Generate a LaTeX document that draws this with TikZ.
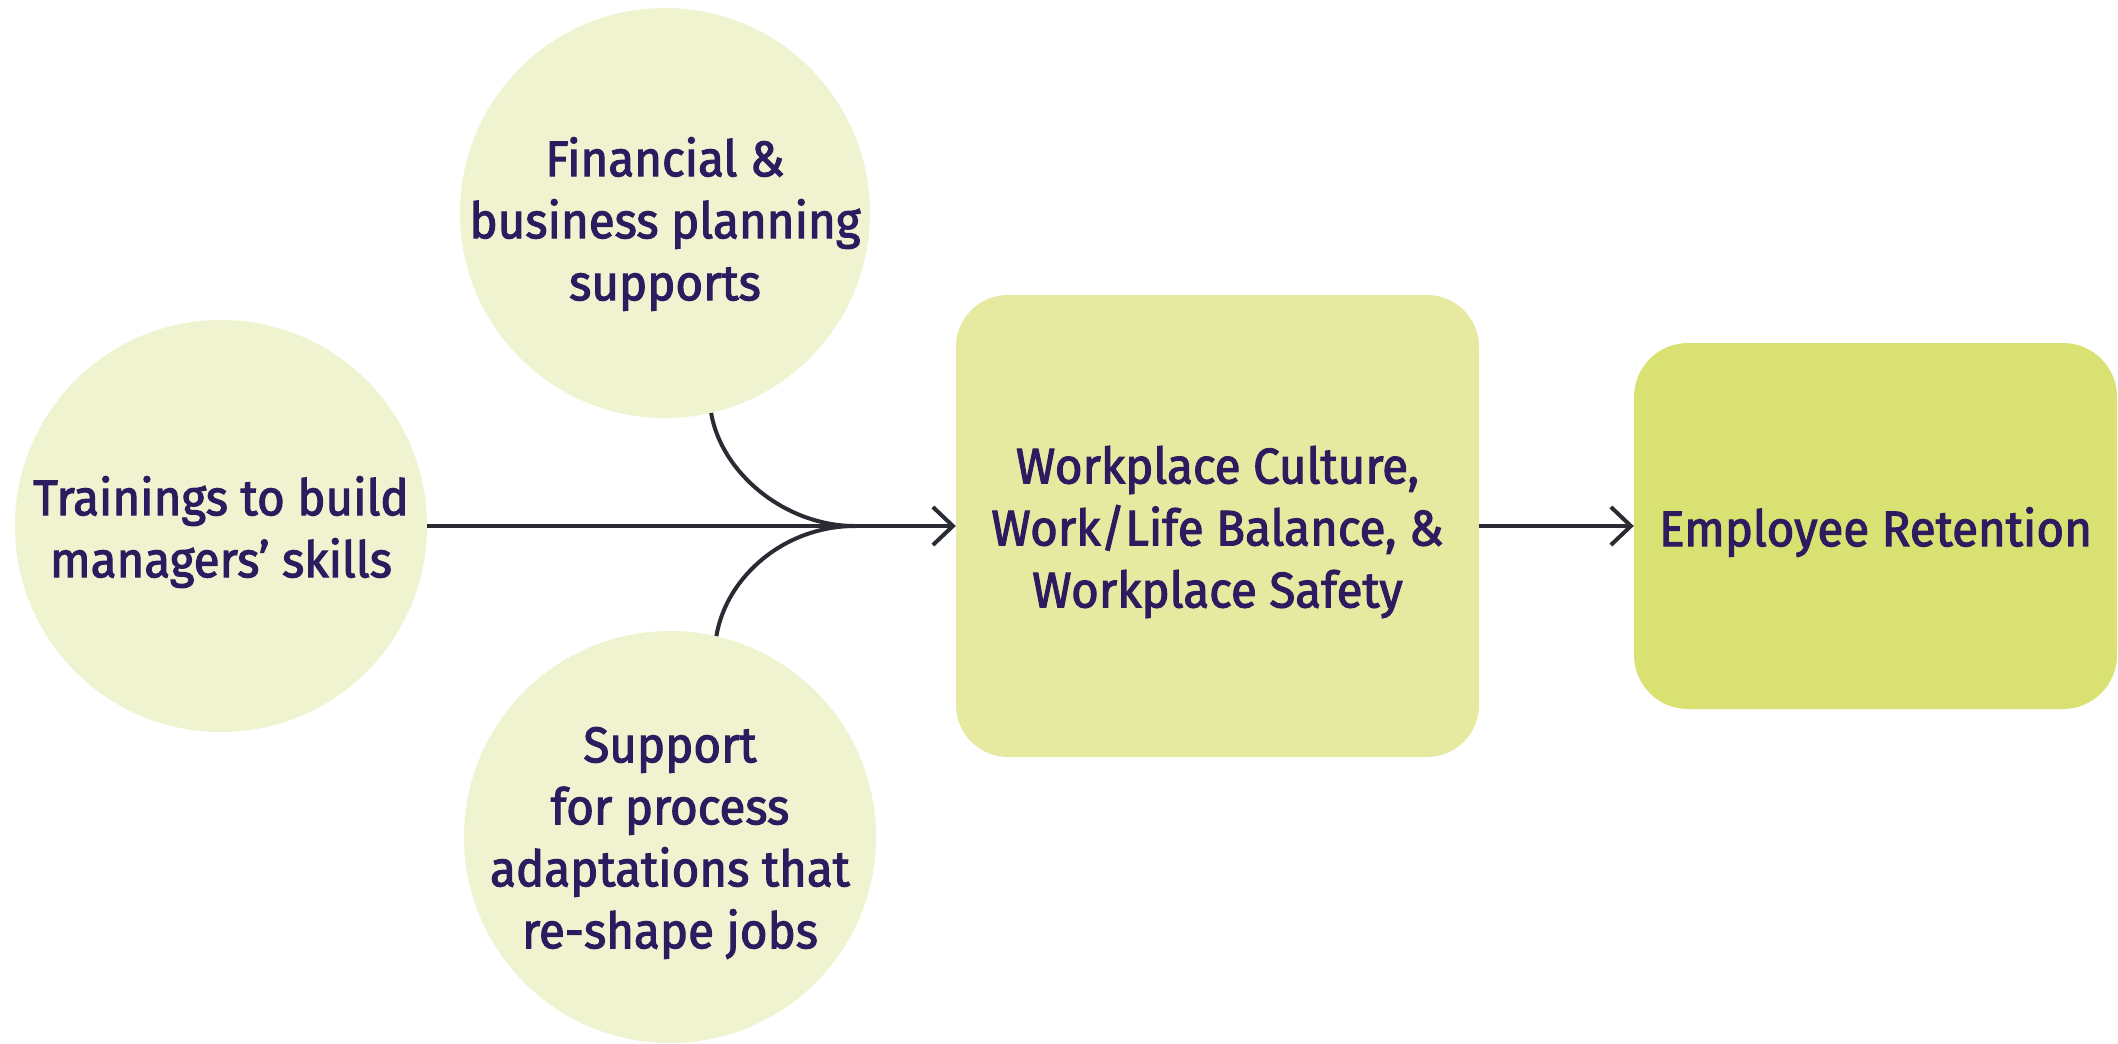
\documentclass[tikz,border=0pt]{standalone}
\usepackage{fontspec}
\setmainfont{Fira Sans}[FakeStretch=0.95, FakeBold=2.2]
\usetikzlibrary{arrows.meta}

\definecolor{bubblefill}{HTML}{F0F3CF}
\definecolor{midfill}{HTML}{E5EAA0}
\definecolor{endfill}{HTML}{D9E172}
\definecolor{ink}{HTML}{2C1C5F}
\definecolor{wire}{HTML}{2B2B33}

\begin{document}
\begin{tikzpicture}[x=1pt, y=-1pt,
  bubble/.style={circle, fill=bubblefill, inner sep=0pt, minimum size=412pt},
  labeltext/.style={text=ink, align=center, font=\fontsize{50}{62}\selectfont, yshift=-6pt},
  midbox/.style={rectangle, rounded corners=52pt, fill=midfill, inner sep=0pt,
    minimum width=523pt, minimum height=462pt},
  endbox/.style={rectangle, rounded corners=54pt, fill=endfill, inner sep=0pt,
    minimum width=483pt, minimum height=366pt},
  flow/.style={draw=wire, line width=4pt},
  tip/.style={-{Straight Barb[length=20pt, width=38pt]}}
]
% canvas
\fill[white] (0,0) rectangle (2118,1044);
\path[use as bounding box] (0,0) rectangle (2118,1044);

% input bubbles (text set as centred labels so each shape keeps its size)
\node[bubble, label={[name=Lt, labeltext]center:Trainings to build\\managers’ skills}]
  (L) at (221,526) {};
\node[bubble, minimum size=410pt,
  label={[name=Ft, labeltext, yshift=-5pt]center:Financial \&\\business planning\\supports}]
  (F) at (665,213) {};
\node[bubble, label={[name=St, labeltext]center:Support\\for process\\adaptations that\\re-shape jobs}]
  (S) at (670,837) {};

% outcome boxes
\node[midbox, label={[name=Wt, labeltext]center:Workplace Culture,\\Work/Life Balance, \&\\Workplace Safety}]
  (W) at (1217.5,526) {};
\node[endbox, label={[name=Et, labeltext]center:Employee Retention}]
  (E) at (1875.5,526) {};

% merge point of the side inputs
\coordinate (m) at (855,526);

% connectors
\draw[flow, tip] (L.east) -- (W.west);
\draw[flow] (F.-77) .. controls +(10,60) and +(-70,0) .. (m);
\draw[flow] (S.77) .. controls +(10,-60) and +(-70,0) .. (m);
\draw[flow, tip] (W.east) -- (E.west);
\end{tikzpicture}
\end{document}
